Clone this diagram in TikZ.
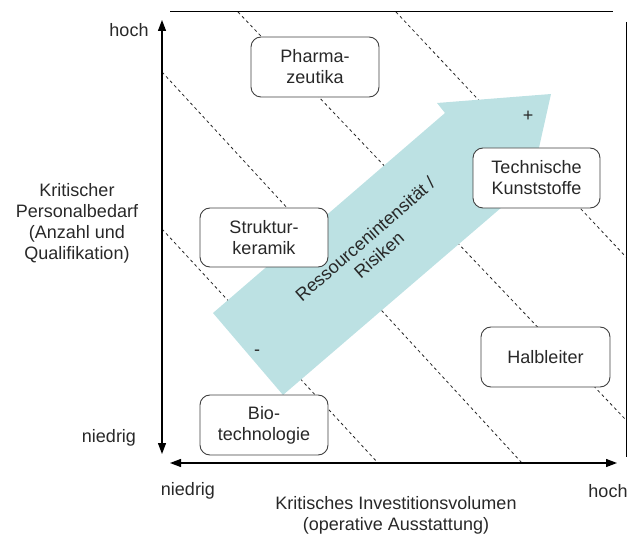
\documentclass[tikz,border=0pt]{standalone}
\usepackage{fontspec}
\setmainfont{Liberation Sans}
\usetikzlibrary{arrows.meta}
\definecolor{teal1}{RGB}{188,225,227}
\definecolor{txt}{RGB}{40,40,40}
\begin{document}
\begin{tikzpicture}[x=1pt,y=-1pt,
  every node/.style={font=\fontsize{18}{21}\selectfont, text=txt},
  catbox/.style={draw=black!75, line width=0.9pt, fill=white, rounded corners=10pt,
    minimum width=128pt, minimum height=60pt, align=center, inner sep=2pt},
  divline/.style={line width=0.8pt, dash pattern=on 3pt off 3pt, black!85},
  axis/.style={line width=1.3pt, {Triangle[length=11pt,width=8pt]}-{Triangle[length=11pt,width=8pt]}},
  frameline/.style={line width=1pt, black}]
\useasboundingbox (0,0) rectangle (629,537);
% frame lines
\coordinate (tl) at (170,12); \coordinate (tr) at (613,12);
\coordinate (rt) at (626,22); \coordinate (rb) at (626,457);
\draw[frameline] (tl) -- (tr);
\draw[frameline] (rt) -- (rb);
% dashed iso-lines
\coordinate (d1a) at (238,12);  \coordinate (d1b) at (626,420);
\coordinate (d2a) at (396,12);  \coordinate (d2b) at (626,257);
\coordinate (d3a) at (162,72);  \coordinate (d3b) at (522,463);
\coordinate (d4a) at (162,229); \coordinate (d4b) at (378,463);
\draw[divline] (d1a) -- (d1b);
\draw[divline] (d2a) -- (d2b);
\draw[divline] (d3a) -- (d3b);
\draw[divline] (d4a) -- (d4b);
% big arrow
\fill[teal1] (213,313) -- (445,113) -- (437,103) -- (551,94) -- (526,206) -- (516,195) -- (283,395) -- cycle;
\node (plus) at (528,116) {+};
\node (minus) at (257,353) {-};
\node (res) at (372,247) [rotate=41, align=center] {Ressourcenintensität /\\Risiken};
% axes
\coordinate (vtop) at (162,20); \coordinate (vbot) at (162,454);
\coordinate (hleft) at (170,463); \coordinate (hright) at (617,463);
\draw[axis] (vtop) -- (vbot);
\draw[axis] (hleft) -- (hright);
% boxes
\node[catbox] (pharma) at (315,67) {Pharma-\\zeutika};
\node[catbox, minimum width=127pt] (tech) at (536.5,178) {Technische\\Kunststoffe};
\node[catbox, minimum height=59pt] (struk) at (264,237.5) {Struktur-\\keramik};
\node[catbox, minimum width=129pt] (halb) at (545.5,357) {Halbleiter};
\node[catbox] (bio) at (264,425) {Bio-\\technologie};
% axis labels
\node (yhoch) at (129,30) {hoch};
\node (yniedrig) at (109,438) {niedrig};
\node (xniedrig) at (188,491) {niedrig};
\node (xhoch) at (608,491) {hoch};
\node[align=center] (xlabel) at (396,515) {Kritisches Investitionsvolumen\\(operative Ausstattung)};
\node[align=center] (ylabel) at (77,223) {Kritischer\\Personalbedarf\\(Anzahl und\\Qualifikation)};
\end{tikzpicture}
\end{document}
